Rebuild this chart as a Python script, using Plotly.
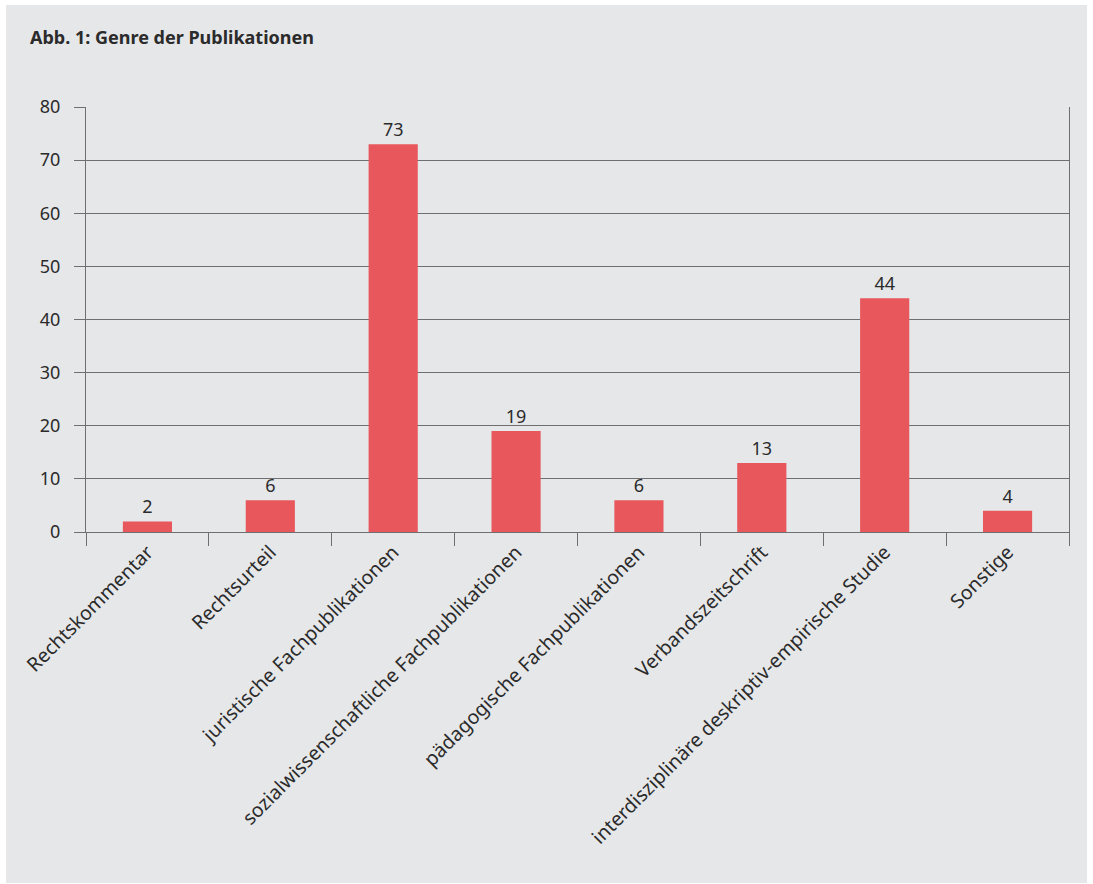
import plotly.graph_objects as go

categories = [
    "Rechtskommentar",
    "Rechtsurteil",
    "juristische Fachpublikationen",
    "sozialwissenschaftliche Fachpublikationen",
    "pädagogische Fachpublikationen",
    "Verbandszeitschrift",
    "interdisziplinäre deskriptiv-empirische Studie",
    "Sonstige",
]
values = [2, 6, 73, 19, 6, 13, 44, 4]
title_text = "Abb. 1: Genre der Publikationen"

W, H = 1093, 884
L, R, T, B = 86, 1069, 107, 532
pw, ph = R - L, B - T

BG = "#e6e7e9"
BAR = "#e8575c"
GRID = "#6f6f71"
TXT = "#2b2b2b"
FONT = "Noto Sans"

fig = go.Figure()
fig.add_trace(go.Bar(
    x=categories,
    y=values,
    marker=dict(color=BAR, line=dict(width=0)),
    text=[str(v) for v in values],
    textposition="outside",
    textfont=dict(family=FONT, size=18, color=TXT),
    cliponaxis=False,
    hoverinfo="skip",
))

fig.update_layout(
    width=W,
    height=H,
    margin=dict(l=L, r=W - R, t=T, b=H - B, pad=0),
    paper_bgcolor="white",
    plot_bgcolor="rgba(0,0,0,0)",
    bargap=0.6,
    showlegend=False,
    font=dict(family=FONT, size=18, color=TXT),
    title=dict(
        text="<b>" + title_text + "</b>",
        font=dict(family=FONT, size=18, color=TXT),
        xref="container", yref="container",
        x=30 / W, xanchor="left",
        y=1 - 38 / H, yanchor="middle",
    ),
    shapes=[dict(
        type="rect", xref="paper", yref="paper", layer="below",
        x0=(6 - L) / pw, x1=(1087 - L) / pw,
        y0=(B - 883) / ph, y1=(B - 5) / ph,
        fillcolor=BG, line=dict(width=0),
    )],
)

fig.update_xaxes(
    type="category",
    showgrid=False,
    showline=True, linecolor=GRID, linewidth=1.3,
    ticks="outside", tickson="boundaries", ticklen=13,
    tickcolor=GRID, tickwidth=1.3,
    tickangle=-45,
    tickfont=dict(family=FONT, size=19.5, color=TXT),
    zeroline=False,
)
fig.update_yaxes(
    range=[0, 80],
    dtick=10,
    showgrid=True, gridcolor=GRID, gridwidth=1.3,
    showline=True, linecolor=GRID, linewidth=1.3, mirror=True,
    ticks="outside", ticklen=11, tickcolor=GRID, tickwidth=1.3,
    ticklabelstandoff=10,
    tickfont=dict(family=FONT, size=18, color=TXT),
    zeroline=False,
)

fig.write_html(
    "out.html",
    config={"displayModeBar": False},
    post_script="document.body.style.margin='0';",
)
